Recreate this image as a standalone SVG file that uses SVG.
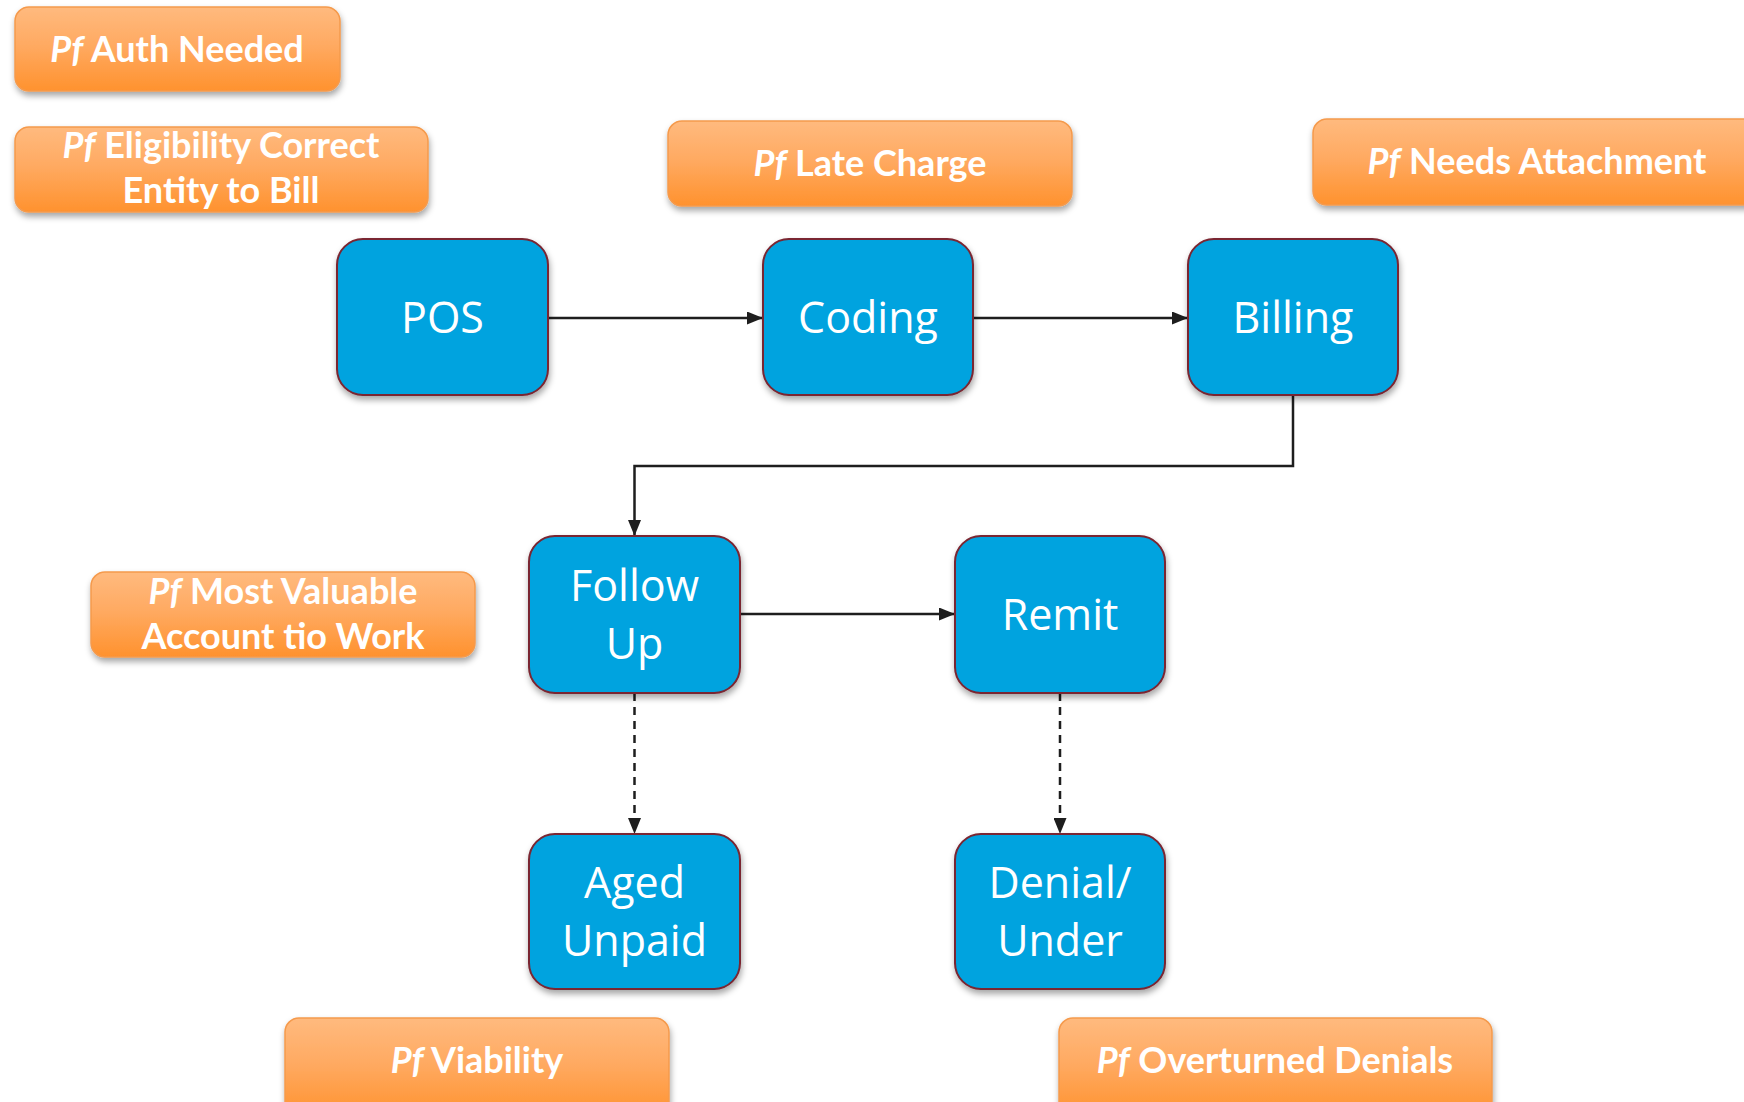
<svg xmlns="http://www.w3.org/2000/svg" width="1744" height="1102" viewBox="0 0 1744 1102">
  <defs>
    <linearGradient id="orangeFill" x1="0" y1="0" x2="0" y2="1">
      <stop offset="0" stop-color="#FFBA7E"/>
      <stop offset="0.45" stop-color="#FFAA62"/>
      <stop offset="1" stop-color="#FF922E"/>
    </linearGradient>
    <filter id="shadow" x="-10%" y="-10%" width="120%" height="135%">
      <feDropShadow dx="1" dy="4" stdDeviation="3" flood-color="#000" flood-opacity="0.35"/>
    </filter>
    <marker id="arrow" viewBox="0 0 16 13" refX="16" refY="6.5" markerWidth="16" markerHeight="13" markerUnits="userSpaceOnUse" orient="auto">
      <path d="M0,0 L16,6.5 L0,13 Z" fill="#1E1E1E"/>
    </marker>
    <style>
      .step rect { fill: #02A3DF; stroke: #7A2530; stroke-width: 2; filter: url(#shadow); }
      .step text { font-family: "Open Sans", "Noto Sans", sans-serif; font-size: 43px; fill: #FFFFFF; text-anchor: middle; }
      .note rect { fill: url(#orangeFill); stroke: #F59A4C; stroke-width: 1.5; filter: url(#shadow); }
      .note text { font-family: Lato, "Liberation Sans", sans-serif; font-weight: bold; font-size: 36px; fill: #FFFFFF; text-anchor: middle; }
      .note .pf { font-style: italic; }
      .link { fill: none; stroke: #1E1E1E; stroke-width: 2.5; marker-end: url(#arrow); }
      .dashed { stroke-dasharray: 8 6; }
    </style>
  </defs>

  <rect width="1744" height="1102" fill="#FFFFFF"/>

  <!-- connectors -->
  <g id="connectors">
    <path class="link" d="M548,318 H763"/>
    <path class="link" d="M973,318 H1188"/>
    <path class="link" d="M1293,395 V466 H634.5 V536"/>
    <path class="link" d="M740,614 H955"/>
    <path class="link dashed" d="M634.5,693 V834"/>
    <path class="link dashed" d="M1060,693 V834"/>
  </g>

  <!-- process steps -->
  <g id="pos" class="step">
    <rect x="337" y="239" width="211" height="156" rx="26"/>
    <text x="442.5" y="333">POS</text>
  </g>
  <g id="coding" class="step">
    <rect x="763" y="239" width="210" height="156" rx="26"/>
    <text x="868" y="333">Coding</text>
  </g>
  <g id="billing" class="step">
    <rect x="1188" y="239" width="210" height="156" rx="26"/>
    <text x="1293" y="333">Billing</text>
  </g>
  <g id="follow-up" class="step">
    <rect x="529" y="536" width="211" height="157" rx="26"/>
    <text x="634.5" y="601">Follow</text>
    <text x="634.5" y="659">Up</text>
  </g>
  <g id="remit" class="step">
    <rect x="955" y="536" width="210" height="157" rx="26"/>
    <text x="1060" y="630">Remit</text>
  </g>
  <g id="aged-unpaid" class="step">
    <rect x="529" y="834" width="211" height="155" rx="26"/>
    <text x="634.5" y="898">Aged</text>
    <text x="634.5" y="956">Unpaid</text>
  </g>
  <g id="denial-under" class="step">
    <rect x="955" y="834" width="210" height="155" rx="26"/>
    <text x="1060" y="898">Denial/</text>
    <text x="1060" y="956">Under</text>
  </g>

  <!-- performance notes -->
  <g id="note-auth" class="note">
    <rect x="15" y="7" width="325" height="84" rx="14"/>
    <text x="177" y="62"><tspan class="pf">Pf</tspan> Auth Needed</text>
  </g>
  <g id="note-eligibility" class="note">
    <rect x="15" y="127" width="413" height="85" rx="14"/>
    <text x="221" y="158"><tspan class="pf">Pf</tspan> Eligibility Correct</text>
    <text x="221" y="203">Entity to Bill</text>
  </g>
  <g id="note-late-charge" class="note">
    <rect x="668" y="121" width="404" height="85" rx="14"/>
    <text x="870" y="176"><tspan class="pf">Pf</tspan> Late Charge</text>
  </g>
  <g id="note-attachment" class="note">
    <rect x="1313" y="119" width="448" height="86" rx="14"/>
    <text x="1537" y="174"><tspan class="pf">Pf</tspan> Needs Attachment</text>
  </g>
  <g id="note-most-valuable" class="note">
    <rect x="91" y="572" width="384" height="85" rx="14"/>
    <text x="283" y="604"><tspan class="pf">Pf</tspan> Most Valuable</text>
    <text x="283" y="649">Account tio Work</text>
  </g>
  <g id="note-viability" class="note">
    <rect x="285" y="1018" width="384" height="100" rx="14"/>
    <text x="477" y="1073"><tspan class="pf">Pf</tspan> Viability</text>
  </g>
  <g id="note-overturned" class="note">
    <rect x="1059" y="1018" width="433" height="100" rx="14"/>
    <text x="1275" y="1073"><tspan class="pf">Pf</tspan> Overturned Denials</text>
  </g>
</svg>
